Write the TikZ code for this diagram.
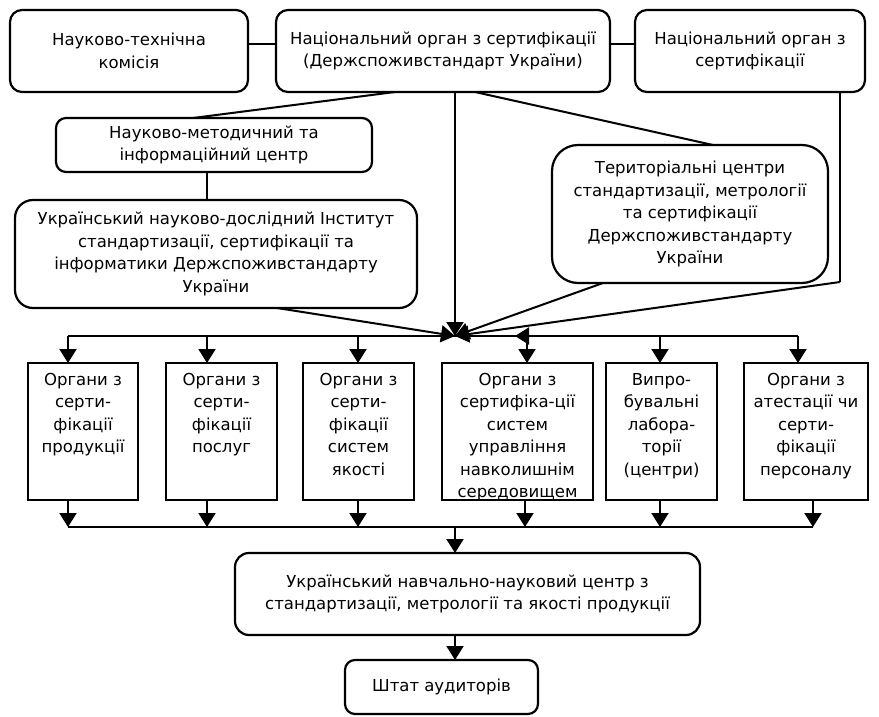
\documentclass[tikz,border=0pt]{standalone}
\usepackage{fontspec}
\setmainfont{DejaVu Sans}
\usetikzlibrary{arrows.meta}
\newcommand\fs{\fontsize{16.5}{22.5}\selectfont}
\tikzset{
  box/.style={draw, line width=2.2pt, rounded corners=#1, inner sep=0pt, outer sep=0pt, align=center, font=\fs},
  box/.default=12pt,
  orgbox/.style={draw, line width=2.2pt, inner sep=0pt, outer sep=0pt, minimum height=137pt},
  orgtext/.style={anchor=north, align=center, inner sep=0pt, font=\fs},
  conn/.style={line width=2pt},
  arr/.style={line width=2pt, -{Triangle[length=14pt,width=17pt]}}
}
\begin{document}
\begin{tikzpicture}[x=1pt,y=-1pt]
\useasboundingbox[fill=white] (0,0) rectangle (879,717);
% top row
\node[box, minimum width=238pt, minimum height=82pt] (A) at (129,51) {Науково-технічна\\комісія};
\node[box, minimum width=334pt, minimum height=82pt] (B) at (443,51) {Національний орган з сертифікації\\(Держспоживстандарт України)};
\node[box, minimum width=230pt, minimum height=82pt] (C) at (750,51) {Національний орган з\\сертифікації};
% second level
\node[box=10pt, minimum width=316pt, minimum height=54pt] (D) at (214,145) {Науково-методичний та\\інформаційний центр};
\node[box=18pt, minimum width=402pt, minimum height=108pt] (E) at (216,254) {Український науково-дослідний Інститут\\стандартизації, сертифікації та\\інформатики Держспоживстандарту\\України};
\node[box=26pt, minimum width=276pt, minimum height=138pt] (F) at (690,214) {Територіальні центри\\стандартизації, метрології\\та сертифікації\\Держспоживстандарту\\України};
% organ boxes
\node[orgbox, minimum width=110pt] (G1) at (83,431.5) {};
\node[orgbox, minimum width=111pt] (G2) at (221.5,431.5) {};
\node[orgbox, minimum width=111pt] (G3) at (358.5,431.5) {};
\node[orgbox, minimum width=151pt] (G4) at (517.5,431.5) {};
\node[orgbox, minimum width=111pt] (G5) at (661.5,431.5) {};
\node[orgbox, minimum width=124pt] (G6) at (806,431.5) {};
\node[orgtext] (G1t) at ([yshift=-10pt]G1.north) {Органи з\\серти-\\фікації\\продукції};
\node[orgtext] (G2t) at ([yshift=-10pt]G2.north) {Органи з\\серти-\\фікації\\послуг};
\node[orgtext] (G3t) at ([yshift=-10pt]G3.north) {Органи з\\серти-\\фікації\\систем\\якості};
\node[orgtext] (G4t) at ([yshift=-10pt]G4.north) {Органи з\\сертифіка-ції\\систем\\управління\\навколишнім\\середовищем};
\node[orgtext] (G5t) at ([yshift=-10pt]G5.north) {Випро-\\бувальні\\лабора-\\торії\\(центри)};
\node[orgtext] (G6t) at ([yshift=-10pt]G6.north) {Органи з\\атестації чи\\серти-\\фікації\\персоналу};
% bottom
\node[box=14pt, minimum width=465pt, minimum height=82pt] (H) at (467.5,594) {Український навчально-науковий центр з\\стандартизації, метрології та якості продукції};
\node[box=10pt, minimum width=193pt, minimum height=54pt] (I) at (441.5,687) {Штат аудиторів};
% coordinates
\coordinate (conv) at (455,336);
\coordinate (cbend) at (840,282);
\coordinate (arrL) at (515,336);
\coordinate (t1) at (68,336);
\coordinate (t2) at (207,336);
\coordinate (t3) at (358,336);
\coordinate (t4) at (527,336);
\coordinate (t5) at (660,336);
\coordinate (t6) at (798,336);
\coordinate (b1) at (68,527);
\coordinate (b2) at (207,527);
\coordinate (b3) at (358,527);
\coordinate (b4) at (525,527);
\coordinate (b5) at (660,527);
\coordinate (b6) at (813,527);
\coordinate (bc) at (455,527);
% connectors top
\draw[conn] ([yshift=7pt]A.east) -- ([yshift=7pt]B.west);
\draw[conn] ([yshift=7pt]B.east) -- ([yshift=7pt]C.west);
\draw[conn] ([xshift=-48pt]B.south) -- ([xshift=-21pt]D.north);
\draw[conn] ([xshift=-7pt]D.south) -- ([xshift=-9pt]E.north);
\draw[conn] ([xshift=32pt]B.south) -- ([xshift=23pt]F.north);
\draw[arr] ([xshift=12pt]B.south) -- (conv);
\draw[arr] ([xshift=61pt]E.south) -- (conv);
\draw[arr] ([xshift=-87pt]F.south) -- (conv);
\draw[conn] ([xshift=90pt]C.south) -- (cbend);
\draw[arr] (cbend) -- (conv);
% distribution bus
\draw[conn] (t1) -- (t6);
\draw[arr] (t4) -- (arrL);
\draw[arr] (t1) -- (t1 |- G1.north);
\draw[arr] (t2) -- (t2 |- G2.north);
\draw[arr] (t3) -- (t3 |- G3.north);
\draw[arr] (t4) -- (t4 |- G4.north);
\draw[arr] (t5) -- (t5 |- G5.north);
\draw[arr] (t6) -- (t6 |- G6.north);
% collecting bus
\draw[arr] (b1 |- G1.south) -- (b1);
\draw[arr] (b2 |- G2.south) -- (b2);
\draw[arr] (b3 |- G3.south) -- (b3);
\draw[arr] (b4 |- G4.south) -- (b4);
\draw[arr] (b5 |- G5.south) -- (b5);
\draw[arr] (b6 |- G6.south) -- (b6);
\draw[conn] (b1) -- (b6);
\draw[arr] (bc) -- (bc |- H.north);
\draw[arr] (bc |- H.south) -- (bc |- I.north);
\end{tikzpicture}
\end{document}
